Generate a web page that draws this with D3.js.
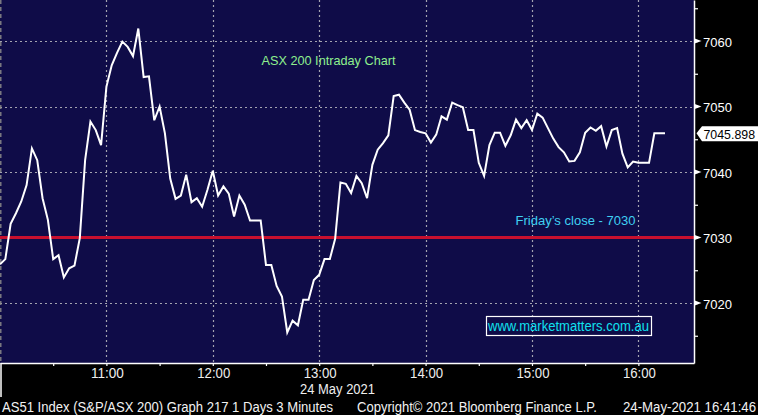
<!DOCTYPE html>
<html><head><meta charset="utf-8">
<script src="https://cdn.jsdelivr.net/npm/d3@7"></script>
<style>
html,body{margin:0;padding:0;background:#000;overflow:hidden}
svg{display:block}
text{font-family:"Liberation Sans",Arial,sans-serif}
</style>
</head><body>
<svg id="c" width="758" height="415"></svg>
<script>
// ---- data ----
const sessionDate = "2021-05-24";
const startTime = "10:00";
const stepMinutes = 3;
const values = [
  7025.9,7026.7,7032.1,7033.7,7035.5,7038.0,7043.6,7041.8,7036.0,7032.7,
  7026.7,7027.3,7023.9,7025.3,7025.7,7029.9,7041.8,7047.7,7046.4,7044.1,
  7053.0,7056.3,7058.2,7059.9,7059.1,7057.7,7061.9,7054.5,7054.6,7047.9,
  7050.0,7045.9,7039.0,7035.9,7036.4,7039.6,7035.4,7036.0,7034.7,7037.3,
  7040.2,7036.4,7037.8,7036.7,7033.2,7036.4,7035.0,7032.6,7032.6,7032.6,
  7025.8,7025.8,7022.6,7021.0,7015.5,7017.3,7016.6,7020.5,7020.5,7023.5,
  7024.3,7026.7,7026.7,7029.8,7038.4,7038.2,7036.8,7039.4,7038.3,7036.0,
  7041.1,7043.4,7044.4,7045.6,7051.6,7051.8,7050.6,7049.5,7046.4,7046.1,
  7045.9,7044.5,7045.7,7048.5,7048.0,7050.6,7050.2,7049.9,7046.4,7046.4,
  7041.4,7039.4,7044.1,7046.0,7046.0,7044.0,7045.6,7048.0,7046.7,7047.9,
  7046.4,7048.9,7048.3,7046.7,7045.1,7043.8,7043.0,7041.6,7041.7,7043.0,
  7046.0,7046.8,7046.3,7047.0,7043.9,7046.4,7046.7,7042.8,7040.7,7041.6,
  7041.4,7041.4,7041.4,7045.898,7045.898,7045.898
];
const lastValue = 7045.898;
const closeValue = 7030;
const yMajorTicks = [7020,7030,7040,7050,7060];
const yMinorTicks = [7015,7025,7035,7045,7055,7065];
const xHourTicks = ["11:00","12:00","13:00","14:00","15:00","16:00"];
const xHalfTicks = ["10:30","11:30","12:30","13:30","14:30","15:30"];
const dateLabel = "24 May 2021";
const titleText = "ASX 200 Intraday Chart";
const closeText = "Friday\u2019s close - 7030";
const siteText = "www.marketmatters.com.au";
const footerLeft = "AS51 Index (S&P/ASX 200) Graph 217 1 Days 3 Minutes";
const footerMid = "Copyright\u00a9 2021 Bloomberg Finance L.P.";
const footerRight = "24-May-2021 16:41:46";

// ---- layout ----
const W = 758, H = 415;
const plotW = 694, plotH = 363;
const parse = d3.timeParse("%Y-%m-%d %H:%M");
const t0 = parse(sessionDate + " " + startTime);
const tEnd = d3.timeSecond.offset(t0, 23482);
const dates = values.map((v,i) => d3.timeMinute.offset(t0, i*stepMinutes));

const x = d3.scaleTime().domain([t0, tEnd]).range([0, plotW]);
const y = d3.scaleLinear().domain([7010.84, 7066.26]).range([plotH, 0]);

const svg = d3.select("#c");
svg.append("rect").attr("width", W).attr("height", H).attr("fill", "#000");
svg.append("rect").attr("width", plotW).attr("height", plotH).attr("fill", "#0f0c48");

const gridCol = "#a3a3b0";
// horizontal grid
svg.append("g").selectAll("line").data(yMajorTicks).join("line")
  .attr("x1", 0).attr("x2", plotW)
  .attr("y1", d => Math.round(y(d)) + 0.5).attr("y2", d => Math.round(y(d)) + 0.5)
  .attr("stroke", gridCol).attr("stroke-width", 1.2).attr("stroke-dasharray", "2,3");
// vertical grid
const hourDates = xHourTicks.map(s => parse(sessionDate + " " + s));
const halfDates = xHalfTicks.map(s => parse(sessionDate + " " + s));
svg.append("g").selectAll("line").data(hourDates).join("line")
  .attr("x1", d => Math.round(x(d)) + 0.5).attr("x2", d => Math.round(x(d)) + 0.5)
  .attr("y1", 0).attr("y2", plotH)
  .attr("stroke", gridCol).attr("stroke-width", 1.2).attr("stroke-dasharray", "2,3");
// left edge dashed line
svg.append("line").attr("x1", 0.8).attr("x2", 0.8).attr("y1", 0).attr("y2", plotH)
  .attr("stroke", "#8a8a8a").attr("stroke-width", 1.3).attr("stroke-dasharray", "4,3");

// Friday close line
svg.append("line").attr("x1", 0).attr("x2", plotW)
  .attr("y1", y(closeValue)).attr("y2", y(closeValue))
  .attr("stroke", "#c8102e").attr("stroke-width", 3.2);

// price line
const line = d3.line().x((d,i) => x(dates[i])).y(d => y(d));
svg.append("path").datum(values).attr("d", line)
  .attr("fill", "none").attr("stroke", "#fff").attr("stroke-width", 2)
  .attr("stroke-linejoin", "miter");

// bottom axis
const xAxis = d3.axisBottom(x).tickValues(hourDates.concat(halfDates))
  .tickSize(3).tickSizeOuter(0).tickFormat("");
const gx = svg.append("g").attr("transform", `translate(0,${plotH})`).call(xAxis);
gx.select(".domain").attr("stroke", "#fff").attr("stroke-width", 1.5);
gx.selectAll(".tick line").attr("stroke", "#fff").attr("stroke-width", 1.2);
svg.append("line").attr("x1", 1).attr("x2", 1).attr("y1", plotH).attr("y2", 397)
  .attr("stroke", "#fff").attr("stroke-width", 1.5);
const fmt = d3.timeFormat("%H:%M");
svg.append("g").selectAll("text").data(hourDates).join("text")
  .attr("x", d => x(d) + 1).attr("y", 378)
  .attr("text-anchor", "middle").attr("fill", "#eeeeee")
  .attr("font-size", 14).attr("textLength", 33).attr("lengthAdjust", "spacingAndGlyphs")
  .text(d => fmt(d));
svg.append("text").attr("x", 300).attr("y", 394).attr("fill", "#eeeeee")
  .attr("font-size", 14).attr("textLength", 75).attr("lengthAdjust", "spacingAndGlyphs")
  .text(dateLabel);

// right axis
const yAxis = d3.axisRight(y).tickValues(yMinorTicks.concat(yMajorTicks))
  .tickSize(4).tickSizeOuter(0).tickFormat("");
const gy = svg.append("g").attr("transform", `translate(${plotW},0)`).call(yAxis);
gy.select(".domain").attr("stroke", "#fff").attr("stroke-width", 1.5);
gy.selectAll(".tick line").attr("stroke", "#fff").attr("stroke-width", 1.2);
svg.append("g").selectAll("path").data(yMajorTicks).join("path")
  .attr("d", d => { const yy = y(d); return `M${plotW},${yy-2.8}L${plotW+7.5},${yy}L${plotW},${yy+2.8}Z`; })
  .attr("fill", "#fff");
svg.append("g").selectAll("text").data(yMajorTicks).join("text")
  .attr("x", 703).attr("y", d => y(d) + 5.5).attr("fill", "#fff")
  .attr("font-size", 13.5).attr("textLength", 29).attr("lengthAdjust", "spacingAndGlyphs")
  .text(d => d);

// last value tag
const ly = y(lastValue);
svg.append("path")
  .attr("d", `M${plotW+2.5},${ly}L${plotW+8},${ly-7}L${W},${ly-7}L${W},${ly+8}L${plotW+8},${ly+8}Z`)
  .attr("fill", "#fff");
svg.append("text").attr("x", 703.5).attr("y", ly + 5.3).attr("fill", "#000")
  .attr("font-size", 13.5).attr("textLength", 51.5).attr("lengthAdjust", "spacingAndGlyphs")
  .text(d3.format(".3f")(lastValue));

// annotations
svg.append("text").attr("x", 261.5).attr("y", 65).attr("fill", "#8ef08e")
  .attr("font-size", 13).attr("textLength", 134).attr("lengthAdjust", "spacingAndGlyphs")
  .text(titleText);
svg.append("text").attr("x", 515.5).attr("y", 225).attr("fill", "#3fd0f2")
  .attr("font-size", 13).attr("textLength", 120).attr("lengthAdjust", "spacingAndGlyphs")
  .text(closeText);
svg.append("rect").attr("x", 486.5).attr("y", 316.5).attr("width", 165).attr("height", 19)
  .attr("fill", "none").attr("stroke", "#fff").attr("stroke-width", 1.2);
svg.append("text").attr("x", 488).attr("y", 331).attr("fill", "#10e0ee")
  .attr("font-size", 14).attr("textLength", 161).attr("lengthAdjust", "spacingAndGlyphs")
  .text(siteText);

// footer
const foot = [[2, footerLeft, 331],[357, footerMid, 240],[623, footerRight, 133]];
svg.append("g").selectAll("text").data(foot).join("text")
  .attr("x", d => d[0]).attr("y", 411.5).attr("fill", "#f2f2f2")
  .attr("font-size", 14).attr("textLength", d => d[2]).attr("lengthAdjust", "spacingAndGlyphs")
  .text(d => d[1]);
</script>
</body></html>
